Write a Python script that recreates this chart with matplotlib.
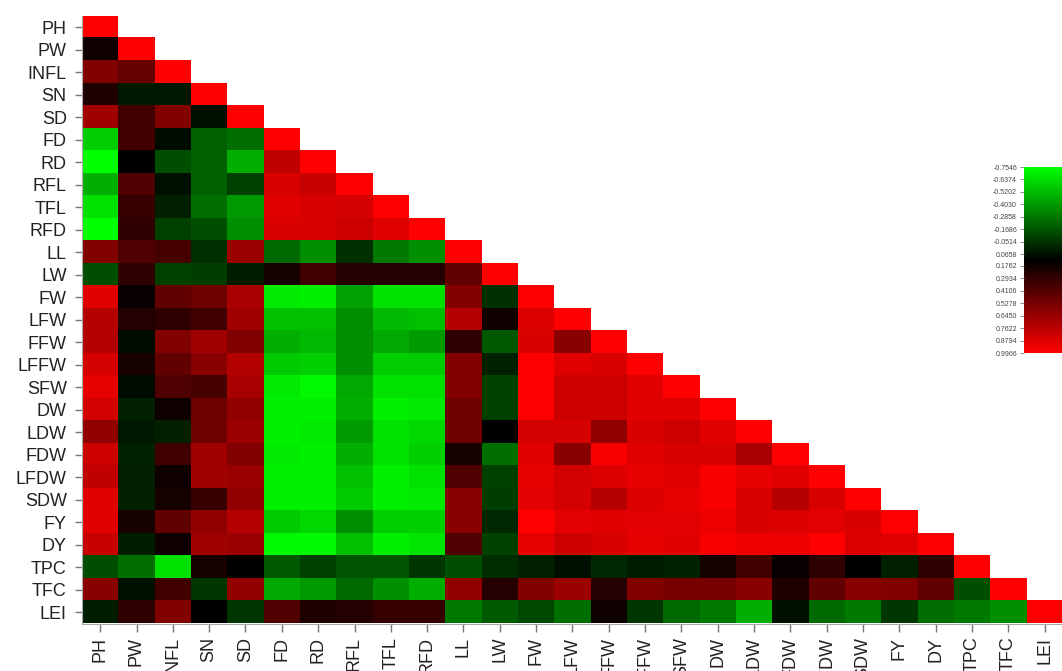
import numpy as np
import matplotlib
matplotlib.use('Agg')
import matplotlib.pyplot as plt
from matplotlib.colors import LinearSegmentedColormap

labels = ['PH', 'PW', 'INFL', 'SN', 'SD', 'FD', 'RD', 'RFL', 'TFL', 'RFD', 'LL', 'LW',
          'FW', 'LFW', 'FFW', 'LFFW', 'SFW', 'DW', 'LDW', 'FDW', 'LFDW', 'SDW', 'FY',
          'DY', 'TPC', 'TFC', 'LEI']

# lower triangle of the correlation matrix, row by row (diagonal left out)
r_PH = []
r_PW = [0.17]
r_INFL = [0.56, 0.47]
r_SN = [0.23, 0.04, 0.04]
r_SD = [0.67, 0.34, 0.56, 0.06]
r_FD = [-0.58, 0.34, 0.08, -0.21, -0.26]
r_RD = [-0.75, 0.12, -0.15, -0.21, -0.48, 0.78]
r_RFL = [-0.48, 0.39, 0.06, -0.21, -0.10, 0.86, 0.80]
r_TFL = [-0.65, 0.31, 0.01, -0.26, -0.40, 0.89, 0.86, 0.85]
r_RFD = [-0.75, 0.28, -0.10, -0.15, -0.37, 0.86, 0.86, 0.82, 0.89]
r_LL = [0.56, 0.39, 0.36, -0.04, 0.65, -0.24, -0.36, -0.05, -0.29, -0.37]
r_LW = [-0.15, 0.28, -0.10, -0.09, 0.02, 0.20, 0.34, 0.25, 0.25, 0.25, 0.45]
r_FW = [0.89, 0.15, 0.45, 0.50, 0.70, -0.68, -0.70, -0.43, -0.65, -0.65, 0.56, -0.05]
r_LFW = [0.73, 0.25, 0.28, 0.34, 0.67, -0.54, -0.54, -0.36, -0.51, -0.54, 0.73, 0.17, 0.88]
r_FFW = [0.73, 0.08, 0.56, 0.67, 0.56, -0.48, -0.51, -0.36, -0.46, -0.41, 0.28, -0.18, 0.86,
         0.59]
r_LFFW = [0.85, 0.20, 0.45, 0.59, 0.73, -0.57, -0.59, -0.37, -0.58, -0.58, 0.56, 0.00, 0.99,
          0.89, 0.86]
r_SFW = [0.92, 0.08, 0.39, 0.36, 0.70, -0.68, -0.73, -0.46, -0.65, -0.65, 0.56, -0.11, 0.99,
         0.82, 0.82, 0.89]
r_DW = [0.84, 0.01, 0.17, 0.50, 0.62, -0.70, -0.70, -0.48, -0.70, -0.68, 0.50, -0.10, 0.99,
        0.82, 0.82, 0.89, 0.89]
r_LDW = [0.62, 0.04, 0.01, 0.50, 0.65, -0.70, -0.68, -0.41, -0.65, -0.62, 0.50, 0.12, 0.84,
         0.85, 0.62, 0.86, 0.82, 0.89]
r_FDW = [0.82, 0.00, 0.34, 0.67, 0.56, -0.68, -0.70, -0.48, -0.65, -0.59, 0.20, -0.26, 0.89,
         0.59, 0.97, 0.89, 0.86, 0.86, 0.70]
r_LFDW = [0.78, 0.01, 0.17, 0.67, 0.65, -0.70, -0.70, -0.54, -0.70, -0.65, 0.39, -0.10, 0.92,
          0.84, 0.88, 0.92, 0.89, 0.97, 0.92, 0.89]
r_SDW = [0.89, 0.01, 0.20, 0.31, 0.62, -0.70, -0.70, -0.57, -0.70, -0.68, 0.59, -0.09, 0.90,
         0.85, 0.75, 0.88, 0.92, 0.97, 0.86, 0.75, 0.86]
r_FY = [0.89, 0.20, 0.45, 0.62, 0.73, -0.57, -0.62, -0.37, -0.59, -0.59, 0.59, -0.02, 0.99,
        0.90, 0.89, 0.90, 0.90, 0.94, 0.86, 0.88, 0.90, 0.86]
r_DY = [0.80, 0.02, 0.17, 0.67, 0.65, -0.73, -0.73, -0.54, -0.70, -0.66, 0.39, -0.10, 0.92,
        0.82, 0.86, 0.92, 0.89, 0.97, 0.94, 0.94, 0.99, 0.88, 0.89]
r_TPC = [-0.15, -0.26, -0.65, 0.20, 0.12, -0.18, -0.10, -0.17, -0.17, -0.07, -0.15, -0.03, 0.01,
         0.06, -0.02, 0.02, 0.00, 0.20, 0.34, 0.15, 0.28, 0.12, 0.01, 0.28]
r_TFC = [0.59, 0.06, 0.34, -0.07, 0.62, -0.46, -0.40, -0.24, -0.37, -0.48, 0.62, 0.25, 0.56,
         0.65, 0.25, 0.56, 0.53, 0.53, 0.59, 0.23, 0.45, 0.59, 0.56, 0.45, -0.15]
r_LEI = [0.02, 0.28, 0.56, 0.12, -0.06, 0.39, 0.23, 0.25, 0.31, 0.31, -0.29, -0.19, -0.12,
         -0.26, 0.17, -0.07, -0.24, -0.29, -0.48, 0.06, -0.24, -0.30, -0.07, -0.25, -0.29, -0.37]

lower = [r_PH, r_PW, r_INFL, r_SN, r_SD, r_FD, r_RD, r_RFL, r_TFL, r_RFD, r_LL, r_LW, r_FW,
         r_LFW, r_FFW, r_LFFW, r_SFW, r_DW, r_LDW, r_FDW, r_LFDW, r_SDW, r_FY, r_DY, r_TPC,
         r_TFC, r_LEI]

cb_ticks = [-0.7546, -0.6374, -0.5202, -0.4030, -0.2858, -0.1686, -0.0514, 0.0658, 0.1762,
            0.2934, 0.4106, 0.5278, 0.6450, 0.7622, 0.8794, 0.9966]
vmin, vmax = -0.7546, 0.9966


def main():
    plt.rcParams['font.family'] = ['Liberation Sans', 'DejaVu Sans']
    n = len(labels)
    mat = np.full((n, n), np.nan)
    for i, row in enumerate(lower):
        mat[i, :i] = row
        mat[i, i] = 1.0

    cmap = LinearSegmentedColormap.from_list('gbr', ['#00ff00', '#000000', '#ff0000'])

    fig = plt.figure(figsize=(10.62, 6.71), dpi=100)
    ax = fig.add_axes([82 / 1062, (671 - 623.5) / 671, 981 / 1062, 607.5 / 671])
    im = ax.imshow(np.ma.masked_invalid(mat), cmap=cmap, vmin=vmin, vmax=vmax,
                   aspect='auto', interpolation='nearest')

    ax.set_xticks(range(n))
    ax.set_yticks(range(n))
    ax.set_xticklabels(labels, rotation=90, va='top', ha='center')
    ax.set_yticklabels(labels)
    ax.tick_params(axis='y', length=5, width=1, color='#777777', labelsize=13,
                   labelcolor='#222222', pad=6)
    ax.tick_params(axis='x', length=5.5, width=1, color='#777777', labelsize=13,
                   labelcolor='#222222', pad=4)
    for s in ['top', 'right']:
        ax.spines[s].set_visible(False)
    for s in ['left', 'bottom']:
        ax.spines[s].set_color('#aaaaaa')
        ax.spines[s].set_linewidth(0.8)

    cax = fig.add_axes([1024 / 1062, (671 - 353) / 671, 40 / 1062, 186 / 671])
    cb = fig.colorbar(im, cax=cax, ticks=cb_ticks)
    cb.outline.set_visible(False)
    cax.invert_yaxis()
    cax.yaxis.set_ticks_position('left')
    cax.yaxis.set_label_position('left')
    cax.set_yticklabels(['%.4f' % t for t in cb_ticks])
    cax.tick_params(length=3, width=0.6, color='#777777', labelsize=5,
                    labelcolor='#444444', pad=2)

    plt.savefig('out.png', dpi=100)


if __name__ == '__main__':
    main()
